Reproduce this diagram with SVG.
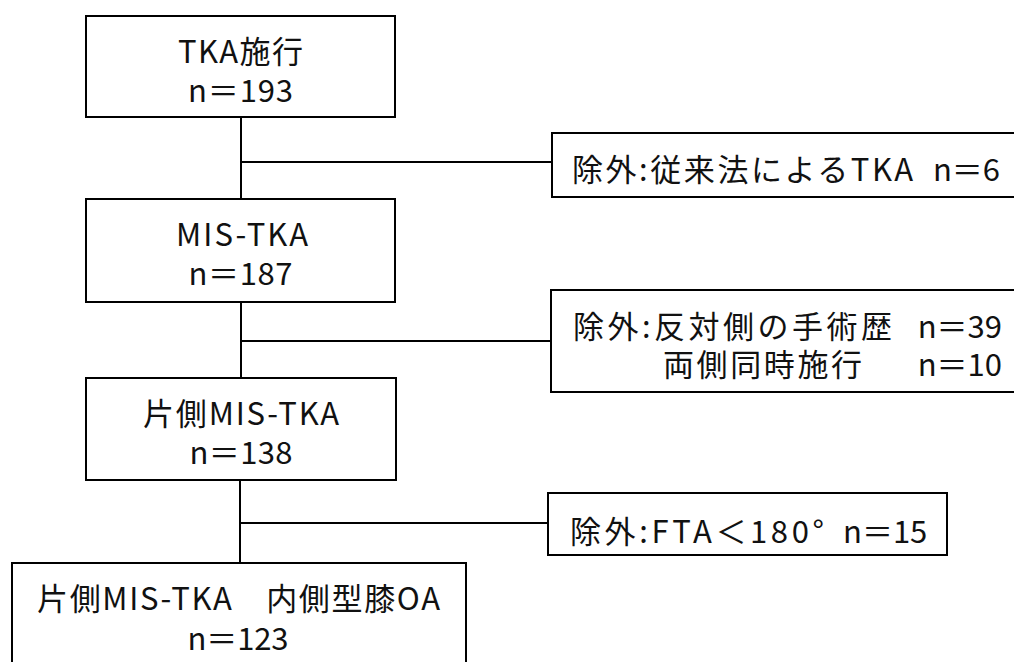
<svg xmlns="http://www.w3.org/2000/svg" width="1014" height="662" viewBox="0 0 1014 662">
<style>
.box{fill:#fff;stroke:#000;stroke-width:2}
.ln{stroke:#000;stroke-width:2;fill:none}
text{font-family:"Noto Sans CJK JP","Noto Sans",sans-serif;font-size:31px;fill:#111}
.c{text-anchor:middle}
.e{text-anchor:end}
</style>
<rect width="1014" height="662" fill="#fff"/>
<g id="connectors">
<line class="ln" x1="241" y1="117" x2="241" y2="199"/>
<line class="ln" x1="241" y1="162" x2="552" y2="162"/>
<line class="ln" x1="241" y1="302" x2="241" y2="378"/>
<line class="ln" x1="241" y1="341" x2="551" y2="341"/>
<line class="ln" x1="240" y1="480" x2="240" y2="563"/>
<line class="ln" x1="240" y1="523" x2="548" y2="523"/>
</g>
<g id="n1">
<rect class="box" x="86" y="16" width="309" height="101"/>
<text class="c" x="240.5" y="63" textLength="125" lengthAdjust="spacing">TKA施行</text>
<text class="c" x="240.5" y="102" textLength="105" lengthAdjust="spacing">n＝193</text>
</g>
<g id="n2">
<rect class="box" x="86" y="199" width="309" height="103"/>
<text class="c" x="242" y="246" textLength="132" lengthAdjust="spacing">MIS-TKA</text>
<text class="c" x="240.5" y="285" textLength="104" lengthAdjust="spacing">n＝187</text>
</g>
<g id="n3">
<rect class="box" x="86" y="378" width="310" height="102"/>
<text class="c" x="241" y="425" textLength="196" lengthAdjust="spacing">片側MIS-TKA</text>
<text class="c" x="241" y="464" textLength="103" lengthAdjust="spacing">n＝138</text>
</g>
<g id="n4">
<rect class="box" x="12" y="563" width="454" height="110"/>
<text class="c" x="238.5" y="610" textLength="403" lengthAdjust="spacing">片側MIS-TKA　内側型膝OA</text>
<text class="c" x="238" y="650" textLength="101" lengthAdjust="spacing">n＝123</text>
</g>
<g id="e1">
<rect class="box" x="552" y="133" width="470" height="64"/>
<text x="572" y="181" textLength="341" lengthAdjust="spacing">除外:従来法によるTKA</text>
<text class="e" x="1000" y="181">n＝6</text>
</g>
<g id="e2">
<rect class="box" x="551" y="290" width="470" height="102"/>
<text x="573" y="338" textLength="319" lengthAdjust="spacing">除外:反対側の手術歴</text>
<text class="e" x="1002" y="338">n＝39</text>
<text x="663" y="376" textLength="199" lengthAdjust="spacing">両側同時施行</text>
<text class="e" x="1002" y="376">n＝10</text>
</g>
<g id="e3">
<rect class="box" x="548" y="493" width="399" height="62"/>
<text x="570" y="543" textLength="254" lengthAdjust="spacing">除外:FTA＜180°</text>
<text x="843" y="543">n＝15</text>
</g>
</svg>
